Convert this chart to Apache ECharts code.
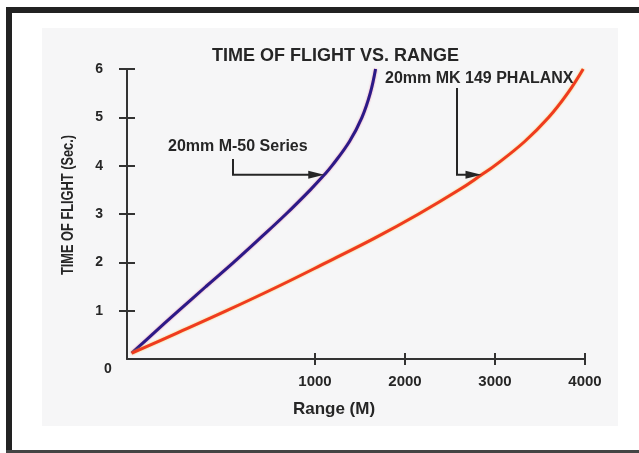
<!DOCTYPE html>
<html>
<head>
<meta charset="utf-8">
<script src="https://cdn.jsdelivr.net/npm/echarts@6/dist/echarts.min.js"></script>
<style>
  html, body { margin: 0; padding: 0; background: #fff; }
  #chart { width: 639px; height: 453px; }
</style>
</head>
<body>
<div id="chart"></div>
<script>
// range, in metres; time of flight in seconds
const m50Range = [25, 132, 275, 420, 567, 708, 846, 975, 1103, 1189, 1383, 1522, 1614, 1673];
const m50Time = [0.12, 0.5, 1, 1.5, 2, 2.5, 3, 3.5, 3.81, 4, 4.5, 5, 5.5, 6];
const mk149Range = [25, 245, 530, 803, 1130, 1663, 2152, 2602, 2850, 2997, 3330, 3597, 3808, 3980];
const mk149Time = [0.12, 0.5, 1, 1.5, 2, 2.5, 3, 3.5, 3.81, 4, 4.5, 5, 5.5, 6];
const rangeTicks = [1000, 2000, 3000, 4000];
const timeTicks = [1, 2, 3, 4, 5, 6];

// the original axis stretches 0-1000 m, then runs evenly to 4000 m
const STRETCH = 188 / 90;
function toAxis(m) {
  return m <= 1000 ? m * STRETCH : 1000 * STRETCH + (m - 1000);
}
function fromAxis(v) {
  return v <= 1000 * STRETCH ? v / STRETCH : v - 1000 * STRETCH + 1000;
}

const ink = '#262626';
const font = 'Liberation Sans, Arial, sans-serif';

const chart = echarts.init(document.getElementById('chart'), null, { renderer: 'canvas' });

const pairs = (xs, ys) => xs.map((x, i) => [toAxis(x), ys[i]]);

const option = {
  backgroundColor: '#ffffff',
  animation: false,
  title: {
    text: 'TIME OF FLIGHT VS. RANGE',
    left: 207,
    top: 42,
    textStyle: { fontFamily: font, fontWeight: 'bold', fontSize: 18, color: ink }
  },
  grid: { left: 127, right: 54, top: 69, bottom: 94 },
  xAxis: [{
    type: 'value',
    min: 0,
    max: toAxis(4000),
    name: 'Range (M)',
    nameLocation: 'middle',
    nameGap: 42,
    nameTextStyle: { fontFamily: font, fontWeight: 'bold', fontSize: 17, color: ink, padding: [0, 44, 0, 0] },
    axisLine: { lineStyle: { color: '#333', width: 2 } },
    axisTick: { customValues: rangeTicks.map(toAxis), length: 6, lineStyle: { color: '#333', width: 2 } },
    axisLabel: {
      customValues: rangeTicks.map(toAxis),
      margin: 15,
      fontFamily: font, fontWeight: 'bold', fontSize: 15, color: ink,
      formatter: v => String(Math.round(fromAxis(v)))
    },
    splitLine: { show: false }
  }, {
    type: 'value',
    min: 0,
    max: toAxis(4000),
    position: 'bottom',
    axisLine: { show: false },
    axisTick: { customValues: rangeTicks.map(toAxis), inside: true, length: 6, lineStyle: { color: '#333', width: 2 } },
    axisLabel: { show: false },
    splitLine: { show: false }
  }],
  yAxis: [{
    type: 'value',
    min: 0,
    max: 6,
    interval: 1,
    axisLine: { lineStyle: { color: '#333', width: 2 } },
    axisTick: { customValues: timeTicks, length: 8, lineStyle: { color: '#333', width: 2 } },
    axisLabel: {
      customValues: timeTicks,
      margin: 24,
      fontFamily: font, fontWeight: 'bold', fontSize: 14, color: ink
    },
    splitLine: { show: false }
  }, {
    type: 'value',
    min: 0,
    max: 6,
    interval: 1,
    position: 'left',
    axisLine: { show: false },
    axisTick: { customValues: timeTicks, inside: true, length: 8, lineStyle: { color: '#333', width: 2 } },
    axisLabel: { show: false },
    splitLine: { show: false }
  }],
  series: [{
    name: '20mm M-50 Series',
    type: 'line',
    data: pairs(m50Range, m50Time),
    smooth: 0.4,
    symbol: 'none',
    lineStyle: { color: '#2c1a88', width: 3, shadowColor: 'rgba(220,60,120,0.6)', shadowBlur: 2 }
  }, {
    name: '20mm MK 149 PHALANX',
    type: 'line',
    data: pairs(mk149Range, mk149Time),
    smooth: 0.4,
    symbol: 'none',
    lineStyle: { color: '#ef3b1f', width: 3, shadowColor: 'rgba(255,190,40,0.8)', shadowBlur: 2 }
  }]
};

chart.setOption(option);

// leader arrow: down from the label, then across to the point it marks on the curve
function leader(tip, stemX, topY, label, textX, textY) {
  return [{
    type: 'polyline',
    shape: { points: [[stemX, topY], [stemX, tip[1]], [tip[0] - 14, tip[1]]] },
    style: { stroke: ink, lineWidth: 2, fill: null },
    z: 10
  }, {
    type: 'polygon',
    shape: { points: [[tip[0] - 16, tip[1] - 4], [tip[0], tip[1]], [tip[0] - 16, tip[1] + 4]] },
    style: { fill: ink },
    z: 10
  }, {
    type: 'text',
    left: textX, top: textY,
    style: { text: label, font: 'bold 16px ' + font, fill: ink },
    z: 10
  }];
}

const m50Tip = chart.convertToPixel({ gridIndex: 0 }, [toAxis(m50Range[8]), m50Time[8]]);
const mk149Tip = chart.convertToPixel({ gridIndex: 0 }, [toAxis(mk149Range[8]), mk149Time[8]]);

chart.setOption({
  graphic: [
    // scanned page: paper tint and black frame
    { type: 'rect', shape: { x: 42, y: 28, width: 576, height: 398 }, style: { fill: '#f6f6f7' }, z: -10, silent: true },
    { type: 'rect', shape: { x: 6, y: 7, width: 633, height: 6 }, style: { fill: '#222' }, z: 20 },
    { type: 'rect', shape: { x: 6, y: 7, width: 6, height: 446 }, style: { fill: '#222' }, z: 20 },
    { type: 'rect', shape: { x: 6, y: 450, width: 633, height: 3 }, style: { fill: '#444' }, z: 20 },
    { type: 'text', left: 104, top: 362, style: { text: '0', font: 'bold 14px ' + font, fill: ink } },
    // y axis title, condensed like the original lettering
    {
      type: 'text', x: 69, y: 205, rotation: Math.PI / 2, scaleX: 0.8,
      style: { text: 'TIME OF FLIGHT (Sec.)', font: 'bold 16px ' + font, fill: ink, align: 'center', verticalAlign: 'middle' }
    },
    ...leader(m50Tip, 233, 159, '20mm M-50 Series', 168, 139),
    ...leader(mk149Tip, 457, 88, '20mm MK 149 PHALANX', 385, 71)
  ]
});
</script>
</body>
</html>
